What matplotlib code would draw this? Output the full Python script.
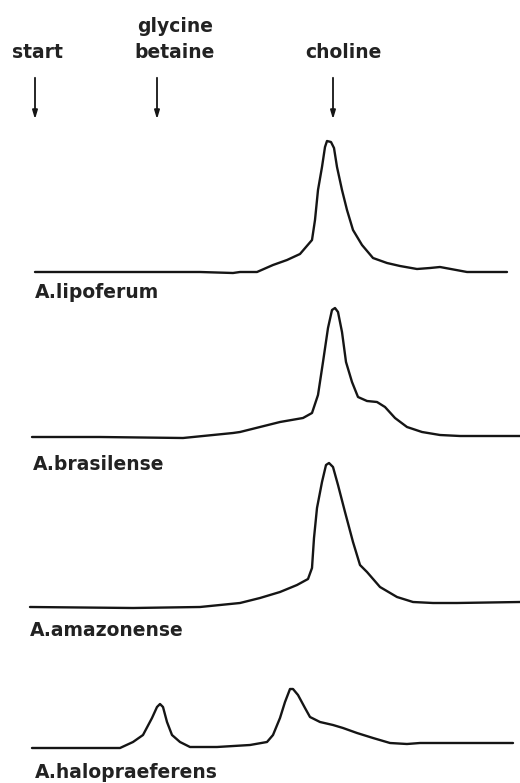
import matplotlib
matplotlib.use("Agg")
import matplotlib.pyplot as plt
import numpy as np

# migration distance (px along the strip) and detector signal above baseline
strains = ["A.lipoferum", "A.brasilense", "A.amazonense", "A.halopraeferens"]

lipoferum_x = [35, 100, 150, 200, 233, 240, 257, 273, 287, 300, 312, 315, 318, 322, 325,
               327, 331, 334, 337, 342, 347, 353, 362, 373, 387, 400, 417, 430, 440,
               467, 507]
lipoferum_h = [0, 0, 0, 0, -1, 0, 0, 7, 12, 18, 32, 52, 82, 105, 125,
               131, 130, 124, 105, 82, 62, 42, 27, 14, 9, 6, 3, 4, 5,
               0, 0]

brasilense_x = [32, 100, 183, 233, 240, 260, 280, 303, 312, 318, 323, 328, 332, 335,
                338, 342, 346, 352, 358, 367, 377, 385, 395, 407, 422, 440, 460, 520]
brasilense_h = [0, 0, -1, 4, 5, 10, 15, 19, 24, 42, 75, 109, 127, 129,
                125, 105, 75, 55, 40, 36, 35, 30, 19, 10, 5, 2, 1, 1]

amazonense_x = [30, 133, 200, 240, 260, 280, 297, 308, 312, 314, 317, 322, 326, 329,
                333, 338, 345, 353, 360, 367, 380, 397, 413, 433, 457, 520]
amazonense_h = [0, -1, 0, 4, 9, 15, 22, 28, 39, 69, 99, 125, 142, 144,
                140, 122, 95, 65, 42, 35, 20, 10, 5, 4, 4, 5]

halo_x = [32, 100, 120, 133, 143, 152, 157, 160, 163, 167, 172, 180, 190, 217, 250,
          267, 273, 280, 285, 290, 293, 298, 305, 310, 320, 333, 343, 357, 373,
          390, 407, 420, 513]
halo_h = [0, 0, 0, 6, 13, 30, 41, 44, 41, 26, 13, 6, 1, 1, 3,
          6, 13, 30, 46, 59, 59, 53, 40, 31, 26, 23, 20, 15, 10,
          5, 4, 5, 5]

traces_x = [lipoferum_x, brasilense_x, amazonense_x, halo_x]
traces_h = [lipoferum_h, brasilense_h, amazonense_h, halo_h]

markers = ["start", "glycine\nbetaine", "choline"]
marker_pos = [35, 157, 333]

baselines = [272, 437, 607, 748]
label_x = [35, 33, 30, 35]
label_y = [293, 465, 630, 772]

fig = plt.figure(figsize=(5.2, 7.83), dpi=100)
ax = fig.add_axes([0, 0, 1, 1])
ax.set_xlim(0, 520)
ax.set_ylim(783, 0)
ax.axis("off")

ink = "#151515"
font = dict(fontsize=13.5, fontweight="bold", color="#222222")

for xs, hs, base, name, lx, ly in zip(traces_x, traces_h, baselines, strains, label_x, label_y):
    ax.plot(xs, base - np.array(hs), color=ink, lw=1.7,
            solid_joinstyle="round", solid_capstyle="round")
    ax.text(lx, ly, name, ha="left", va="center", **font)

marker_label_x = [37, 175, 343]
for name, pos, lx in zip(markers, marker_pos, marker_label_x):
    if "\n" in name:
        top, bottom = name.split("\n")
        ax.text(lx, 27, top, ha="center", va="center", **font)
        ax.text(lx, 53, bottom, ha="center", va="center", **font)
    else:
        ax.text(lx, 53, name, ha="center", va="center", **font)
    ax.annotate("", xy=(pos, 122), xytext=(pos, 75),
                arrowprops=dict(arrowstyle="-|>,head_length=0.5,head_width=0.15",
                                color=ink, lw=1.3))

fig.savefig("out.png", dpi=100)
